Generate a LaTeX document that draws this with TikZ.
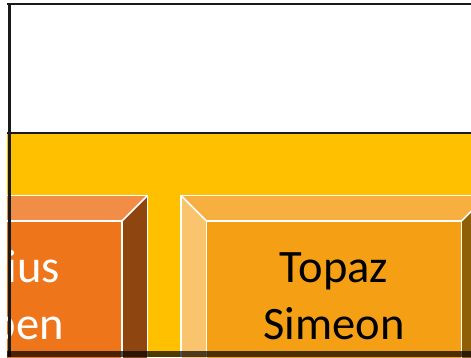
\documentclass[tikz,border=0pt]{standalone}
\usepackage{fontspec}
\setmainfont{Carlito}
\usepackage{tikz}

\definecolor{panelyellow}{HTML}{FFC000}
\definecolor{orangetop}{HTML}{F28D48}
\definecolor{orangeleft}{HTML}{F5A873}
\definecolor{orangefront}{HTML}{EF751B}
\definecolor{orangeside}{HTML}{8E450F}
\definecolor{ambertop}{HTML}{F7B040}
\definecolor{amberleft}{HTML}{FAC46E}
\definecolor{amberfront}{HTML}{F5A014}
\definecolor{amberside}{HTML}{8F5F08}
\definecolor{frameline}{HTML}{1A1A1A}

% bevel box: x0, y0, x1, y1, inset, top, left, front, right
\newcommand{\bevelbox}[9]{
  \fill[#6] (#1,#2) -- (#3,#2) -- (#3-#5,#2+#5) -- (#1+#5,#2+#5) -- cycle; % top face
  \fill[#7] (#1,#2) -- (#1+#5,#2+#5) -- (#1+#5,#4-#5) -- (#1,#4) -- cycle; % left face
  \fill[#9] (#3,#2) -- (#3,#4) -- (#3-#5,#4-#5) -- (#3-#5,#2+#5) -- cycle; % right face
  \fill[#8] (#1+#5,#2+#5) rectangle (#3-#5,#4-#5); % front face
  \draw[white, line width=1.6pt] (#1,#2) rectangle (#3,#4); % outer edge
  \draw[white, line width=1.6pt] (#1+#5,#2+#5) rectangle (#3-#5,#4-#5); % inner edge
  \draw[white, line width=1.6pt] (#1,#2) -- (#1+#5,#2+#5) (#3,#2) -- (#3-#5,#2+#5); % corners
}

\begin{document}
\begin{tikzpicture}[x=1pt, y=-1pt, font=\fontsize{46.5}{57}\selectfont]
\useasboundingbox (0,0) rectangle (471,357);
\clip (7,0) rectangle (471,357);
\fill[white] (7,4) rectangle (471,133); % title area
\fill[panelyellow] (7,133) rectangle (471,357); % yellow panel
\bevelbox{-140}{195.5}{147.5}{420}{25.5}{orangetop}{orangeleft}{orangefront}{orangeside} % left box
\bevelbox{181}{195.5}{487}{420}{25.5}{ambertop}{amberleft}{amberfront}{amberside} % right box
\node[white, anchor=base] (darius) at (0,282) {Darius};
\node[white, anchor=base] (ruben) at (3,339) {Ruben};
\node[black, anchor=base] (topaz) at (334,282) {Topaz};
\node[black, anchor=base] (simeon) at (334,339) {Simeon};
\draw[frameline, line width=2.2pt] (7,4) -- (471,4); % top rule
\draw[frameline, line width=2.2pt] (7,133) -- (471,133); % panel rule
\draw[frameline, line width=2.2pt] (9.5,4) -- (9.5,357); % left rule
\fill[black, opacity=0.7] (7,351) rectangle (471,357); % bottom shadow
\end{tikzpicture}
\end{document}
